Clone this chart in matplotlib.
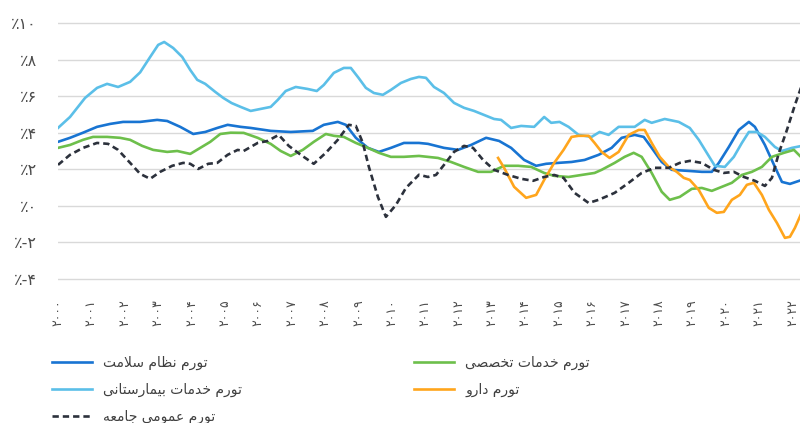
import matplotlib
matplotlib.use("Agg")
import matplotlib.pyplot as plt
import numpy as np

# ---- data (years since 2000, percent) ----
years = list(range(2000, 2023))

t_system = [0, 0.36, 0.75, 1.17, 1.56, 1.95, 2.46, 2.97, 3.27, 3.66, 4.05, 4.41, 4.77, 5.08, 5.47, 5.77,
            6.37, 6.97, 7.63, 7.96, 8.38, 8.62, 8.92, 9.28, 9.61, 9.97, 10.36, 10.81, 11.08, 11.56, 11.98,
            12.37, 12.82, 13.21, 13.57, 13.96, 14.32, 14.62, 14.98, 15.38, 15.77, 16.19, 16.58, 16.88,
            17.27, 17.54, 17.78, 18.08, 18.38, 18.89, 19.28, 19.58, 19.79, 20.09, 20.39, 20.69, 20.87,
            21.17, 21.47, 21.68, 21.92, 22.28]
v_system = [3.5, 3.72, 4.0, 4.32, 4.48, 4.59, 4.59, 4.7, 4.64, 4.32, 3.93, 4.04, 4.26, 4.43, 4.32, 4.26,
            4.1, 4.04, 4.1, 4.43, 4.59, 4.43, 3.72, 3.17, 2.95, 3.17, 3.44, 3.44, 3.39, 3.17, 3.06,
            3.33, 3.72, 3.55, 3.17, 2.51, 2.19, 2.3, 2.35, 2.4, 2.51, 2.79, 3.17, 3.72,
            3.88, 3.77, 3.17, 2.4, 1.97, 1.91, 1.86, 1.86, 2.35, 3.22, 4.15, 4.59, 4.32,
            3.33, 2.13, 1.31, 1.2, 1.42]

t_hosp = [0, 0.36, 0.81, 1.17, 1.47, 1.8, 2.16, 2.46, 2.76, 3.0, 3.18, 3.45, 3.72, 3.96, 4.17, 4.41, 4.71,
          4.95, 5.2, 5.47, 5.77, 6.07, 6.37, 6.58, 6.82, 7.12, 7.48, 7.75, 7.96, 8.26, 8.56, 8.77, 9.0,
          9.22, 9.46, 9.73, 9.97, 10.27, 10.57, 10.81, 11.02, 11.26, 11.56, 11.86, 12.16, 12.46, 12.76,
          13.06, 13.27, 13.57, 13.87, 14.26, 14.56, 14.77, 15.02, 15.29, 15.59, 15.98, 16.22, 16.49,
          16.79, 17.09, 17.27, 17.57, 17.78, 18.17, 18.59, 18.92, 19.19, 19.43, 19.67, 19.97, 20.24,
          20.48, 20.69, 20.93, 21.17, 21.47, 21.68, 21.98, 22.28]
v_hosp = [4.26, 4.86, 5.9, 6.45, 6.67, 6.5, 6.78, 7.3, 8.14, 8.8, 8.96, 8.63, 8.14, 7.43, 6.89, 6.67, 6.23,
          5.9, 5.62, 5.41, 5.19, 5.3, 5.41, 5.79, 6.28, 6.5, 6.39, 6.28, 6.61, 7.27, 7.54, 7.54, 7.0,
          6.45, 6.17, 6.07, 6.34, 6.72, 6.94, 7.05, 7.0, 6.5, 6.17, 5.63, 5.36, 5.19, 4.97,
          4.75, 4.7, 4.26, 4.37, 4.32, 4.86, 4.54, 4.59, 4.32, 3.88, 3.77, 4.04, 3.88,
          4.32, 4.32, 4.32, 4.7, 4.54, 4.75, 4.59, 4.26, 3.61, 2.9, 2.19, 2.13, 2.68,
          3.44, 4.04, 4.04, 3.77, 3.22, 3.0, 3.17, 3.28]

t_special = [0, 0.36, 0.75, 1.05, 1.47, 1.86, 2.16, 2.52, 2.85, 3.27, 3.57, 3.96, 4.26, 4.56, 4.86, 5.17,
             5.56, 5.98, 6.37, 6.67, 6.97, 7.33, 7.66, 8.02, 8.26, 8.56, 8.92, 9.28, 9.61, 9.97, 10.36,
             10.81, 11.38, 11.77, 12.16, 12.58, 12.97, 13.36, 13.78, 14.17, 14.56, 14.86, 15.29, 15.68,
             16.07, 16.28, 16.67, 16.97, 17.24, 17.48, 17.78, 18.08, 18.32, 18.62, 18.98, 19.28, 19.58,
             19.88, 20.18, 20.48, 20.78, 21.08, 21.38, 21.74, 22.04, 22.28]
v_special = [3.17, 3.33, 3.61, 3.77, 3.77, 3.72, 3.61, 3.28, 3.06, 2.95, 3.0, 2.84, 3.17, 3.5, 3.93, 4.0,
             3.99, 3.72, 3.39, 3.0, 2.73, 3.06, 3.5, 3.93, 3.83, 3.77, 3.44, 3.17, 2.9, 2.68, 2.68,
             2.73, 2.62, 2.4, 2.13, 1.86, 1.86, 2.19, 2.19, 2.13, 1.8, 1.64, 1.58, 1.69,
             1.8, 1.97, 2.35, 2.68, 2.9, 2.68, 1.8, 0.77, 0.33, 0.49, 0.93, 0.98, 0.82,
             1.04, 1.26, 1.69, 1.86, 2.13, 2.68, 2.9, 3.06, 2.62]

t_drug = [13.18, 13.36, 13.66, 14.02, 14.32, 14.56, 14.86, 15.14, 15.38, 15.59, 15.89, 16.07, 16.28, 16.52,
          16.79, 17.09, 17.39, 17.57, 17.78, 18.02, 18.29, 18.53, 18.74, 18.92, 19.19, 19.49, 19.73,
          19.94, 20.18, 20.42, 20.63, 20.84, 21.08, 21.29, 21.53, 21.77, 21.92, 22.07, 22.28]
v_drug = [2.62, 2.08, 1.04, 0.44, 0.6, 1.42, 2.35, 3.06, 3.77, 3.83, 3.83, 3.44, 2.95, 2.62,
          2.95, 3.88, 4.15, 4.15, 3.44, 2.68, 2.13, 1.86, 1.53, 1.42, 0.87, -0.11, -0.38,
          -0.33, 0.33, 0.6, 1.15, 1.26, 0.6, -0.22, -0.93, -1.75, -1.69, -1.2, -0.33]

t_general = [0, 0.36, 0.75, 1.17, 1.5, 1.8, 2.16, 2.46, 2.76, 3.06, 3.42, 3.75, 3.96, 4.2, 4.5, 4.77, 5.08,
             5.38, 5.56, 5.98, 6.28, 6.61, 6.91, 7.27, 7.66, 8.02, 8.38, 8.71, 8.92, 9.13, 9.31, 9.58,
             9.82, 10.12, 10.42, 10.81, 11.08, 11.32, 11.56, 11.86, 12.16, 12.43, 12.73, 13.06, 13.48,
             13.87, 14.23, 14.56, 14.86, 15.14, 15.47, 15.89, 16.19, 16.67, 17.09, 17.48, 17.87, 18.29,
             18.62, 18.92, 19.28, 19.64, 19.94, 20.24, 20.54, 20.87, 21.17, 21.38, 21.59, 21.83, 22.07,
             22.28]
v_general = [2.24, 2.79, 3.17, 3.44, 3.39, 3.06, 2.35, 1.75, 1.48, 1.86, 2.19, 2.35, 2.3, 2.02, 2.3, 2.35, 2.79,
             3.06, 3.0, 3.44, 3.55, 3.88, 3.28, 2.79, 2.3, 2.9, 3.61, 4.43, 4.37, 3.44, 2.13, 0.49,
             -0.6, 0.05, 0.98, 1.7, 1.58, 1.69, 2.24, 2.95, 3.28, 3.17, 2.51, 1.97, 1.69,
             1.48, 1.37, 1.58, 1.69, 1.53, 0.71, 0.16, 0.33, 0.71, 1.26, 1.8, 2.08, 2.08,
             2.35, 2.46, 2.35, 1.97, 1.8, 1.86, 1.58, 1.37, 1.09, 1.53, 2.9, 4.15, 5.52,
             6.61]

labels = {
    "system": "تورم نظام سلامت",
    "hosp": "تورم خدمات بیمارستانی",
    "general": "تورم عمومی جامعه",
    "special": "تورم خدمات تخصصی",
    "drug": "تورم دارو",
}
yticks = [-4, -2, 0, 2, 4, 6, 8, 10]

# ---- simple Persian shaping (matplotlib has no complex text layout) ----
FORMS = {
    'ا': ('\uFE8D', '\uFE8E', None, None),
    'ب': ('\uFE8F', '\uFE90', '\uFE91', '\uFE92'),
    'ت': ('\uFE95', '\uFE96', '\uFE97', '\uFE98'),
    'ج': ('\uFE9D', '\uFE9E', '\uFE9F', '\uFEA0'),
    'خ': ('\uFEA5', '\uFEA6', '\uFEA7', '\uFEA8'),
    'د': ('\uFEA9', '\uFEAA', None, None),
    'ر': ('\uFEAD', '\uFEAE', None, None),
    'س': ('\uFEB1', '\uFEB2', '\uFEB3', '\uFEB4'),
    'ص': ('\uFEB9', '\uFEBA', '\uFEBB', '\uFEBC'),
    'ظ': ('\uFEC5', '\uFEC6', '\uFEC7', '\uFEC8'),
    'ع': ('\uFEC9', '\uFECA', '\uFECB', '\uFECC'),
    'ل': ('\uFEDD', '\uFEDE', '\uFEDF', '\uFEE0'),
    'م': ('\uFEE1', '\uFEE2', '\uFEE3', '\uFEE4'),
    'ن': ('\uFEE5', '\uFEE6', '\uFEE7', '\uFEE8'),
    'ه': ('\uFEE9', '\uFEEA', '\uFEEB', '\uFEEC'),
    'و': ('\uFEED', '\uFEEE', None, None),
    'ی': ('\uFEEF', '\uFEF0', '\uFEF3', '\uFEF4'),
}


def shape_fa(text):
    res = []
    n = len(text)
    i = 0
    while i < n:
        c = text[i]
        if c not in FORMS:
            res.append(c)
            i += 1
            continue
        prev = text[i - 1] if i > 0 else ' '
        joins_prev = prev in FORMS and FORMS[prev][2] is not None
        if c == 'ل' and i + 1 < n and text[i + 1] == 'ا':
            res.append('\uFEFC' if joins_prev else '\uFEFB')
            i += 2
            continue
        nxt = text[i + 1] if i + 1 < n else ' '
        joins_next = FORMS[c][2] is not None and nxt in FORMS
        if joins_prev and joins_next:
            res.append(FORMS[c][3])
        elif joins_prev:
            res.append(FORMS[c][1])
        elif joins_next:
            res.append(FORMS[c][2])
        else:
            res.append(FORMS[c][0])
        i += 1
    return ''.join(reversed(res))


def fa_num(v):
    return str(v).translate(str.maketrans('0123456789', '۰۱۲۳۴۵۶۷۸۹'))


plt.rcParams['font.family'] = ['DejaVu Sans']

fig = plt.figure(figsize=(8, 4.23), dpi=100)
ax = fig.add_axes([0.0725, 0.3317, 0.96, 0.6227])

c_system = '#1874d2'
c_hosp = '#5bbfe8'
c_special = '#6dbf4b'
c_drug = '#ffa51c'
c_general = '#2c313c'
lw = 1.9

l1, = ax.plot(t_system, v_system, color=c_system, lw=lw)
l2, = ax.plot(t_hosp, v_hosp, color=c_hosp, lw=lw)
l3, = ax.plot(t_special, v_special, color=c_special, lw=lw)
l4, = ax.plot(t_drug, v_drug, color=c_drug, lw=lw)
l5, = ax.plot(t_general, v_general, color=c_general, lw=lw, linestyle=(0, (2.4, 1.5)))

ax.set_xlim(0, 23)
ax.set_ylim(-4.2, 10.2)
ax.set_yticks(yticks)
ax.set_yticklabels(['٪' + fa_num(v) for v in yticks])
ax.set_xticks(range(len(years)))
ax.set_xticklabels([fa_num(y) for y in years], rotation=90)
ax.grid(axis='y', color='#d9d9d9', lw=1)
ax.set_axisbelow(True)
for s in ax.spines.values():
    s.set_visible(False)
ax.tick_params(axis='y', length=0, pad=15, labelsize=11.5, labelcolor='#4d4d4d')
ax.tick_params(axis='x', length=0, pad=12, labelsize=9, labelcolor='#4d4d4d')

leg_kw = dict(frameon=False, fontsize=10, handlelength=2.9, handletextpad=0.8,
              labelspacing=0.9, borderpad=0, borderaxespad=0, labelcolor='#404040')
fig.legend([l1, l2, l5], [shape_fa(labels[k]) for k in ('system', 'hosp', 'general')],
           loc='upper left', bbox_to_anchor=(52 / 800, 1 - 356 / 423), **leg_kw)
fig.legend([l3, l4], [shape_fa(labels[k]) for k in ('special', 'drug')],
           loc='upper left', bbox_to_anchor=(414 / 800, 1 - 356 / 423), **leg_kw)

fig.savefig('out.png', dpi=100)
